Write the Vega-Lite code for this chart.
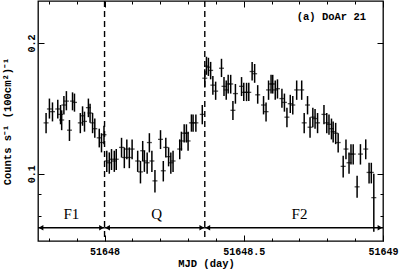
{
  "$schema": "https://vega.github.io/schema/vega-lite/v6.json",
  "width": 345,
  "height": 240,
  "autosize": {"type": "none"},
  "padding": {"left": 38, "top": 1, "right": 17, "bottom": 30},
  "background": "white",
  "config": {
    "view": {"stroke": "black", "strokeWidth": 1.3},
    "axis": {"grid": false, "domain": false, "tickColor": "black", "tickWidth": 1, "labelColor": "black", "titleColor": "black", "labelFont": "Liberation Mono", "labelFontWeight": "bold", "labelFontSize": 10, "titleFont": "Liberation Mono", "titleFontWeight": "bold", "titleFontSize": 10.5}
  },
  "datasets": {
    "pts": [
      {"x": 51647.790, "y": 0.131, "lo": 0.124, "hi": 0.138},
      {"x": 51647.802, "y": 0.141, "lo": 0.134, "hi": 0.149},
      {"x": 51647.813, "y": 0.139, "lo": 0.132, "hi": 0.146},
      {"x": 51647.832, "y": 0.141, "lo": 0.134, "hi": 0.148},
      {"x": 51647.842, "y": 0.137, "lo": 0.130, "hi": 0.144},
      {"x": 51647.846, "y": 0.133, "lo": 0.126, "hi": 0.140},
      {"x": 51647.854, "y": 0.144, "lo": 0.137, "hi": 0.151},
      {"x": 51647.863, "y": 0.147, "lo": 0.140, "hi": 0.155},
      {"x": 51647.874, "y": 0.126, "lo": 0.119, "hi": 0.133},
      {"x": 51647.885, "y": 0.147, "lo": 0.140, "hi": 0.154},
      {"x": 51647.892, "y": 0.146, "lo": 0.139, "hi": 0.153},
      {"x": 51647.913, "y": 0.131, "lo": 0.124, "hi": 0.138},
      {"x": 51647.921, "y": 0.136, "lo": 0.129, "hi": 0.143},
      {"x": 51647.928, "y": 0.132, "lo": 0.125, "hi": 0.139},
      {"x": 51647.942, "y": 0.142, "lo": 0.135, "hi": 0.149},
      {"x": 51647.948, "y": 0.138, "lo": 0.131, "hi": 0.145},
      {"x": 51647.957, "y": 0.131, "lo": 0.124, "hi": 0.138},
      {"x": 51647.965, "y": 0.127, "lo": 0.121, "hi": 0.134},
      {"x": 51647.981, "y": 0.121, "lo": 0.115, "hi": 0.127},
      {"x": 51647.989, "y": 0.118, "lo": 0.112, "hi": 0.124},
      {"x": 51647.998, "y": 0.123, "lo": 0.117, "hi": 0.129},
      {"x": 51648.008, "y": 0.107, "lo": 0.101, "hi": 0.113},
      {"x": 51648.017, "y": 0.106, "lo": 0.100, "hi": 0.112},
      {"x": 51648.025, "y": 0.108, "lo": 0.102, "hi": 0.114},
      {"x": 51648.035, "y": 0.107, "lo": 0.101, "hi": 0.113},
      {"x": 51648.042, "y": 0.108, "lo": 0.102, "hi": 0.114},
      {"x": 51648.061, "y": 0.115, "lo": 0.109, "hi": 0.121},
      {"x": 51648.071, "y": 0.109, "lo": 0.103, "hi": 0.115},
      {"x": 51648.080, "y": 0.114, "lo": 0.108, "hi": 0.120},
      {"x": 51648.089, "y": 0.109, "lo": 0.103, "hi": 0.115},
      {"x": 51648.099, "y": 0.114, "lo": 0.108, "hi": 0.120},
      {"x": 51648.119, "y": 0.107, "lo": 0.101, "hi": 0.113},
      {"x": 51648.129, "y": 0.101, "lo": 0.095, "hi": 0.107},
      {"x": 51648.137, "y": 0.113, "lo": 0.107, "hi": 0.119},
      {"x": 51648.143, "y": 0.107, "lo": 0.101, "hi": 0.113},
      {"x": 51648.153, "y": 0.106, "lo": 0.100, "hi": 0.112},
      {"x": 51648.161, "y": 0.118, "lo": 0.112, "hi": 0.124},
      {"x": 51648.170, "y": 0.107, "lo": 0.101, "hi": 0.113},
      {"x": 51648.181, "y": 0.0963, "lo": 0.0905, "hi": 0.102},
      {"x": 51648.201, "y": 0.120, "lo": 0.114, "hi": 0.126},
      {"x": 51648.211, "y": 0.1016, "lo": 0.096, "hi": 0.107},
      {"x": 51648.220, "y": 0.115, "lo": 0.109, "hi": 0.121},
      {"x": 51648.230, "y": 0.1095, "lo": 0.104, "hi": 0.115},
      {"x": 51648.238, "y": 0.106, "lo": 0.100, "hi": 0.112},
      {"x": 51648.246, "y": 0.107, "lo": 0.101, "hi": 0.113},
      {"x": 51648.270, "y": 0.114, "lo": 0.108, "hi": 0.120},
      {"x": 51648.276, "y": 0.119, "lo": 0.113, "hi": 0.125},
      {"x": 51648.286, "y": 0.124, "lo": 0.118, "hi": 0.130},
      {"x": 51648.294, "y": 0.124, "lo": 0.118, "hi": 0.130},
      {"x": 51648.300, "y": 0.119, "lo": 0.113, "hi": 0.125},
      {"x": 51648.312, "y": 0.131, "lo": 0.125, "hi": 0.137},
      {"x": 51648.318, "y": 0.131, "lo": 0.125, "hi": 0.137},
      {"x": 51648.328, "y": 0.131, "lo": 0.125, "hi": 0.137},
      {"x": 51648.351, "y": 0.137, "lo": 0.130, "hi": 0.144},
      {"x": 51648.360, "y": 0.166, "lo": 0.158, "hi": 0.174},
      {"x": 51648.366, "y": 0.177, "lo": 0.169, "hi": 0.186},
      {"x": 51648.373, "y": 0.176, "lo": 0.168, "hi": 0.185},
      {"x": 51648.381, "y": 0.173, "lo": 0.165, "hi": 0.181},
      {"x": 51648.389, "y": 0.160, "lo": 0.152, "hi": 0.168},
      {"x": 51648.399, "y": 0.155, "lo": 0.148, "hi": 0.163},
      {"x": 51648.420, "y": 0.175, "lo": 0.167, "hi": 0.184},
      {"x": 51648.429, "y": 0.159, "lo": 0.151, "hi": 0.167},
      {"x": 51648.437, "y": 0.156, "lo": 0.148, "hi": 0.164},
      {"x": 51648.444, "y": 0.161, "lo": 0.153, "hi": 0.169},
      {"x": 51648.453, "y": 0.161, "lo": 0.153, "hi": 0.169},
      {"x": 51648.461, "y": 0.140, "lo": 0.133, "hi": 0.147},
      {"x": 51648.470, "y": 0.153, "lo": 0.145, "hi": 0.161},
      {"x": 51648.492, "y": 0.159, "lo": 0.151, "hi": 0.167},
      {"x": 51648.500, "y": 0.154, "lo": 0.147, "hi": 0.162},
      {"x": 51648.510, "y": 0.154, "lo": 0.147, "hi": 0.162},
      {"x": 51648.518, "y": 0.154, "lo": 0.147, "hi": 0.162},
      {"x": 51648.530, "y": 0.172, "lo": 0.164, "hi": 0.181},
      {"x": 51648.539, "y": 0.170, "lo": 0.162, "hi": 0.179},
      {"x": 51648.550, "y": 0.152, "lo": 0.145, "hi": 0.160},
      {"x": 51648.571, "y": 0.144, "lo": 0.137, "hi": 0.151},
      {"x": 51648.580, "y": 0.139, "lo": 0.132, "hi": 0.146},
      {"x": 51648.589, "y": 0.156, "lo": 0.148, "hi": 0.164},
      {"x": 51648.598, "y": 0.161, "lo": 0.153, "hi": 0.169},
      {"x": 51648.604, "y": 0.161, "lo": 0.153, "hi": 0.169},
      {"x": 51648.613, "y": 0.156, "lo": 0.148, "hi": 0.164},
      {"x": 51648.621, "y": 0.157, "lo": 0.149, "hi": 0.165},
      {"x": 51648.637, "y": 0.149, "lo": 0.142, "hi": 0.157},
      {"x": 51648.646, "y": 0.146, "lo": 0.139, "hi": 0.153},
      {"x": 51648.655, "y": 0.135, "lo": 0.128, "hi": 0.142},
      {"x": 51648.667, "y": 0.145, "lo": 0.138, "hi": 0.152},
      {"x": 51648.676, "y": 0.144, "lo": 0.137, "hi": 0.151},
      {"x": 51648.690, "y": 0.156, "lo": 0.148, "hi": 0.164},
      {"x": 51648.708, "y": 0.156, "lo": 0.148, "hi": 0.164},
      {"x": 51648.717, "y": 0.131, "lo": 0.124, "hi": 0.138},
      {"x": 51648.729, "y": 0.144, "lo": 0.137, "hi": 0.151},
      {"x": 51648.738, "y": 0.128, "lo": 0.121, "hi": 0.135},
      {"x": 51648.748, "y": 0.135, "lo": 0.128, "hi": 0.142},
      {"x": 51648.756, "y": 0.134, "lo": 0.127, "hi": 0.141},
      {"x": 51648.765, "y": 0.131, "lo": 0.124, "hi": 0.138},
      {"x": 51648.788, "y": 0.137, "lo": 0.130, "hi": 0.144},
      {"x": 51648.798, "y": 0.131, "lo": 0.124, "hi": 0.138},
      {"x": 51648.806, "y": 0.130, "lo": 0.123, "hi": 0.137},
      {"x": 51648.815, "y": 0.127, "lo": 0.120, "hi": 0.134},
      {"x": 51648.821, "y": 0.125, "lo": 0.118, "hi": 0.132},
      {"x": 51648.830, "y": 0.124, "lo": 0.117, "hi": 0.131},
      {"x": 51648.839, "y": 0.118, "lo": 0.112, "hi": 0.124},
      {"x": 51648.857, "y": 0.104, "lo": 0.098, "hi": 0.110},
      {"x": 51648.867, "y": 0.114, "lo": 0.108, "hi": 0.120},
      {"x": 51648.878, "y": 0.106, "lo": 0.100, "hi": 0.112},
      {"x": 51648.885, "y": 0.111, "lo": 0.105, "hi": 0.117},
      {"x": 51648.893, "y": 0.111, "lo": 0.105, "hi": 0.117},
      {"x": 51648.907, "y": 0.0933, "lo": 0.088, "hi": 0.099},
      {"x": 51648.919, "y": 0.111, "lo": 0.105, "hi": 0.117},
      {"x": 51648.938, "y": 0.114, "lo": 0.108, "hi": 0.120},
      {"x": 51648.950, "y": 0.1007, "lo": 0.095, "hi": 0.106},
      {"x": 51648.958, "y": 0.1007, "lo": 0.095, "hi": 0.106},
      {"x": 51648.967, "y": 0.0881, "lo": 0.0735, "hi": 0.100}
    ],
    "segs": [
      {"a": 51647.761, "b": 51648.0},
      {"a": 51648.0, "b": 51648.36},
      {"a": 51648.36, "b": 51649.0}
    ],
    "labels": [
      {"x": 51647.881, "t": "F1"},
      {"x": 51648.187, "t": "Q"},
      {"x": 51648.70, "t": "F2"}
    ]
  },
  "layer": [
    {
      "data": {"name": "pts"},
      "mark": {"type": "rule", "color": "black", "strokeWidth": 1.5, "clip": true},
      "encoding": {
        "x": {"field": "x", "type": "quantitative", "scale": {"domain": [51647.761, 51649], "nice": false, "zero": false},
          "axis": {"orient": "bottom", "title": "MJD (day)", "titleX": 168, "titleY": 22, "titleBaseline": "middle", "titleAnchor": "start", "titleAlign": "center",
            "values": [51647.8, 51647.9, 51648, 51648.1, 51648.2, 51648.3, 51648.4, 51648.5, 51648.6, 51648.7, 51648.8, 51648.9, 51649],
            "labelExpr": "abs(datum.value*2-round(datum.value*2))<0.001 ? '' + datum.value : ''",
            "tickSize": {"condition": {"test": "abs(datum.value*2-round(datum.value*2))<0.001", "value": -6}, "value": -3},
            "labelPadding": 11, "labelFlush": false, "labelOverlap": false, "labelBaseline": "top"}},
        "y": {"field": "lo", "type": "quantitative", "scale": {"type": "log", "domain": [0.07, 0.25], "nice": false},
          "axis": {"orient": "left", "title": "Counts s⁻¹ (100cm²)⁻¹", "titleX": -31, "titleY": 120, "titleAngle": -90, "titleBaseline": "middle", "titleAlign": "center", "titleAnchor": "start",
            "values": [0.08, 0.09, 0.1, 0.2],
            "labelExpr": "datum.value > 0.095 ? format(datum.value, '.1f') : ''",
            "tickSize": {"condition": {"test": "datum.value > 0.095", "value": -6}, "value": -3},
            "labelAngle": -90, "labelAlign": "center", "labelBaseline": "bottom", "labelPadding": 8, "labelOverlap": false, "labelFlush": false}},
        "y2": {"field": "hi"}
      }
    },
    {
      "data": {"name": "pts"},
      "mark": {"type": "tick", "orient": "horizontal", "color": "black", "size": 5, "thickness": 1.3},
      "encoding": {
        "x": {"field": "x", "type": "quantitative", "axis": null},
        "y": {"field": "y", "type": "quantitative", "scale": {"type": "log"}, "axis": null}
      }
    },
    {
      "data": {"values": [{"t": 51648.0}, {"t": 51648.36}]},
      "mark": {"type": "rule", "color": "black", "strokeWidth": 1.4, "strokeDash": [6, 4]},
      "encoding": {
        "x": {"field": "t", "type": "quantitative", "axis": null}
      }
    },
    {
      "data": {"name": "segs"},
      "mark": {"type": "rule", "color": "black", "strokeWidth": 1.3},
      "encoding": {
        "x": {"field": "a", "type": "quantitative", "axis": null},
        "x2": {"field": "b"},
        "y": {"datum": 0.0751, "type": "quantitative", "scale": {"type": "log"}, "axis": null}
      }
    },
    {
      "data": {"name": "segs"},
      "mark": {"type": "point", "shape": "triangle-left", "filled": true, "color": "black", "size": 30, "opacity": 1, "xOffset": 3},
      "encoding": {
        "x": {"field": "a", "type": "quantitative", "axis": null},
        "y": {"datum": 0.0751, "type": "quantitative", "scale": {"type": "log"}, "axis": null}
      }
    },
    {
      "data": {"name": "segs"},
      "mark": {"type": "point", "shape": "triangle-right", "filled": true, "color": "black", "size": 30, "opacity": 1, "xOffset": -3},
      "encoding": {
        "x": {"field": "b", "type": "quantitative", "axis": null},
        "y": {"datum": 0.0751, "type": "quantitative", "scale": {"type": "log"}, "axis": null}
      }
    },
    {
      "data": {"name": "labels"},
      "mark": {"type": "text", "font": "Liberation Serif", "fontSize": 15, "color": "black", "baseline": "middle", "align": "center"},
      "encoding": {
        "x": {"field": "x", "type": "quantitative", "axis": null},
        "y": {"datum": 0.0806, "type": "quantitative", "scale": {"type": "log"}, "axis": null},
        "text": {"field": "t"}
      }
    },
    {
      "data": {"values": [{"t": "(a) DoAr 21"}]},
      "mark": {"type": "text", "font": "Liberation Mono", "fontWeight": "bold", "fontSize": 10.5, "color": "black", "align": "left", "baseline": "middle"},
      "encoding": {
        "x": {"datum": 51648.69, "type": "quantitative",
          "axis": {"orient": "top", "title": null, "labels": false,
            "values": [51647.8, 51647.9, 51648, 51648.1, 51648.2, 51648.3, 51648.4, 51648.5, 51648.6, 51648.7, 51648.8, 51648.9, 51649],
            "tickSize": {"condition": {"test": "abs(datum.value*2-round(datum.value*2))<0.001", "value": -6}, "value": -3}}},
        "y": {"datum": 0.2298, "type": "quantitative", "scale": {"type": "log"},
          "axis": {"orient": "right", "title": null, "labels": false,
            "values": [0.08, 0.09, 0.1, 0.2],
            "tickSize": {"condition": {"test": "datum.value > 0.095", "value": -6}, "value": -3}}},
        "text": {"field": "t"}
      }
    }
  ],
  "resolve": {"axis": {"x": "independent", "y": "independent"}}
}
